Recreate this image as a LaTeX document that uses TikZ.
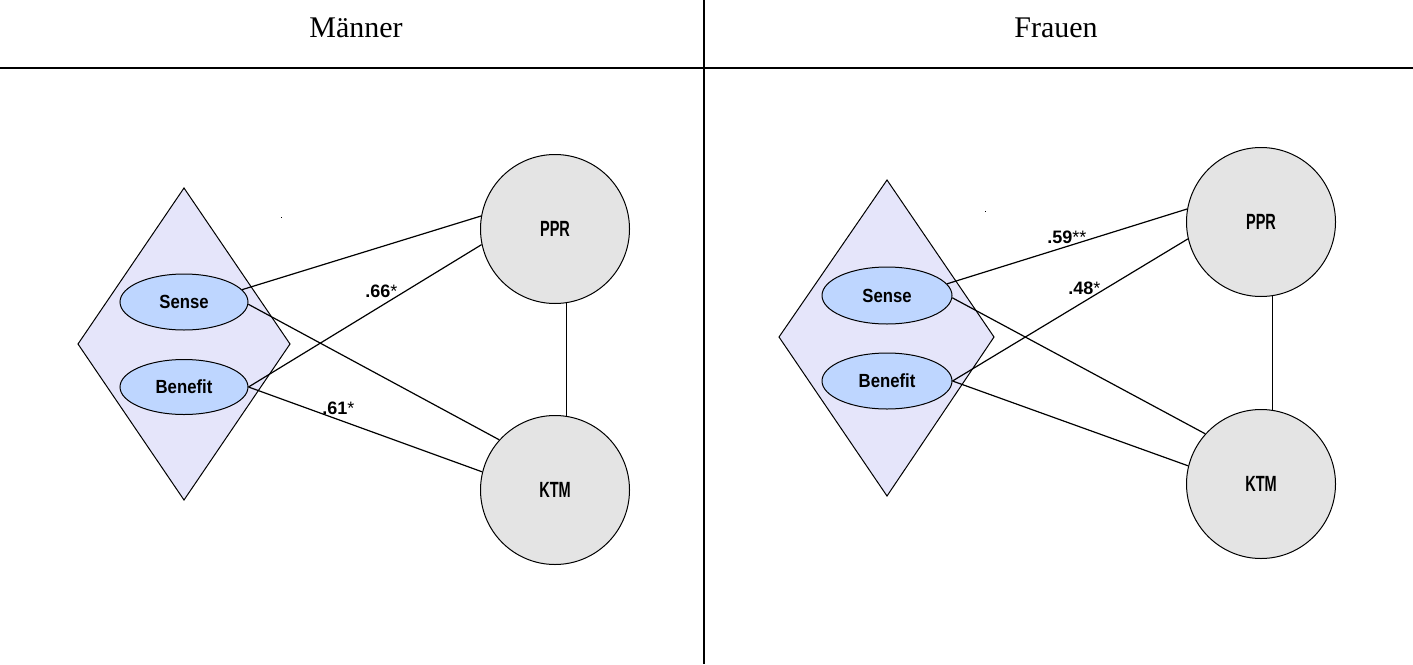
\documentclass[tikz,border=0pt]{standalone}
\usepackage{fontspec}
\setmainfont{Liberation Serif}
\newfontfamily\ellfont[FakeStretch=0.88]{Liberation Sans}
\newfontfamily\circfont[FakeStretch=0.66]{Liberation Sans}
\newfontfamily\labfont{Liberation Sans}
\usetikzlibrary{shapes.geometric}
\definecolor{diamondfill}{RGB}{229,229,250}
\definecolor{ellfill}{RGB}{190,214,255}
\definecolor{circfill}{RGB}{228,228,228}
\tikzset{
  panelrule/.style={line width=0.8pt},
  header/.style={font=\fontsize{15}{18}\selectfont, anchor=base, inner sep=0},
  group/.style={draw, line width=0.5pt, fill=diamondfill},
  item/.style={ellipse, draw, line width=0.5pt, fill=ellfill, inner sep=0,
    font=\ellfont\bfseries\fontsize{9.5}{11}\selectfont},
  factor/.style={circle, draw, line width=0.5pt, fill=circfill, inner sep=0,
    minimum size=74.5pt, font=\circfont\bfseries\fontsize{11}{13}\selectfont},
  path/.style={line width=0.6pt},
  coef/.style={anchor=base west, inner sep=0, font=\labfont\bfseries\fontsize{9}{11}\selectfont},
}
\newcommand{\sigmark}{{\mdseries *}}
\begin{document}
\begin{tikzpicture}[x=0.5pt, y=-0.5pt]
\useasboundingbox (0,0) rectangle (1413,664);
\fill[white] (0,0) rectangle (1413,664);

% header and panel divider
\coordinate (hl) at (0,68);
\coordinate (hr) at (1413,68);
\coordinate (vt) at (704,0);
\coordinate (vb) at (704,664);
\draw[panelrule] (hl) -- (hr);
\draw[panelrule] (vt) -- (vb);
\node[header] (tm) at (356,38) {Männer};
\node[header] (tf) at (1056,38) {Frauen};

% ---------- left panel ----------
\coordinate (ldt) at (184,188);
\coordinate (ldr) at (290,344);
\coordinate (ldb) at (184,500);
\coordinate (ldl) at (78,344);
\draw[group] (ldt) -- (ldr) -- (ldb) -- (ldl) -- cycle;
\node[item, minimum width=64pt, minimum height=28pt] (ls) at (184,302) {Sense};
\node[item, minimum width=64pt, minimum height=27.5pt] (lb) at (184,387) {Benefit};
\node[factor] (lp) at (555,229) {PPR};
\node[factor] (lk) at (555,490) {KTM};
\draw[path] (lp.-81) -- (lk.81);
\draw[path] (ls.12) -- (lp.170);
\draw[path] (ls.-2) -- (lk.138);
\draw[path] (lb.east) -- (lp.192);
\draw[path] (lb.east) -- (lk.166);
\node[coef] (l66) at (365,297) {.66\sigmark};
\node[coef] (l61) at (322,414) {.61\sigmark};
\fill (280.5,216.5) rectangle (282,218);

% ---------- right panel ----------
\coordinate (rdt) at (887,180);
\coordinate (rdr) at (994,337);
\coordinate (rdb) at (887,496);
\coordinate (rdl) at (779,337);
\draw[group] (rdt) -- (rdr) -- (rdb) -- (rdl) -- cycle;
\node[item, minimum width=65pt, minimum height=28.5pt] (rs) at (887,295.5) {Sense};
\node[item, minimum width=65pt, minimum height=28pt] (rb) at (887,381) {Benefit};
\node[factor] (rp) at (1261,222) {PPR};
\node[factor] (rk) at (1261,484) {KTM};
\draw[path] (rp.-81) -- (rk.81);
\draw[path] (rs.11) -- (rp.170);
\draw[path] (rs.-2) -- (rk.138);
\draw[path] (rb.east) -- (rp.193);
\draw[path] (rb.east) -- (rk.166);
\node[coef] (r59) at (1047,243) {.59\sigmark\sigmark};
\node[coef] (r48) at (1068,294) {.48\sigmark};
\fill (984.5,210.5) rectangle (986,212);
\end{tikzpicture}
\end{document}
